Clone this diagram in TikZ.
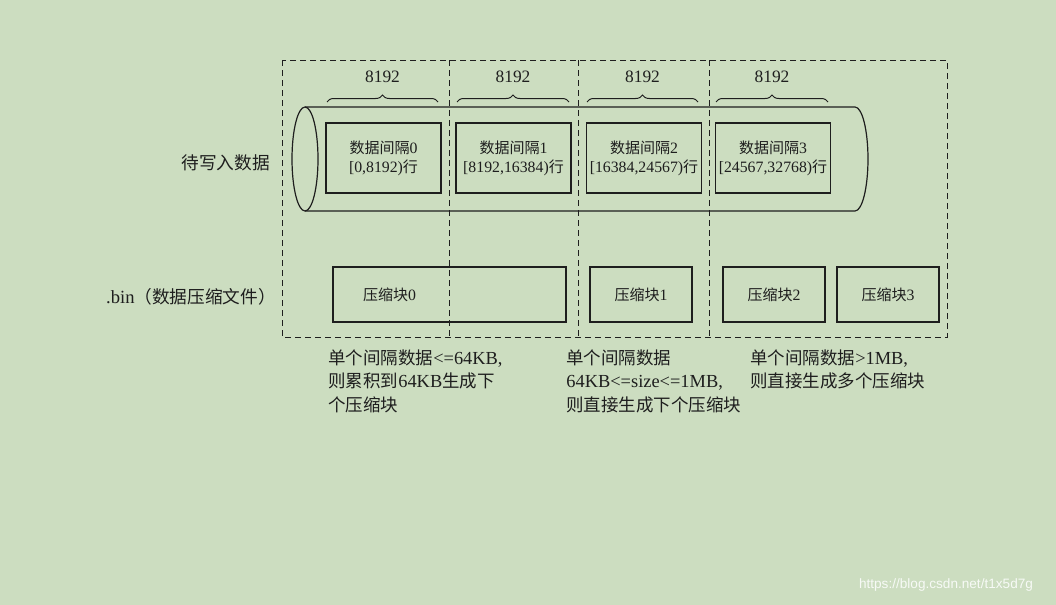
\documentclass[tikz,border=0pt]{standalone}
\usepackage{fontspec}
\setmainfont{Liberation Serif}
\newfontfamily\cjk[Scale=0.95]{Noto Sans CJK SC}
\newfontfamily\webfont{Liberation Sans}
\newcommand{\zh}[1]{{\cjk #1}}
\usepackage{tikz}
\usetikzlibrary{positioning, decorations.pathreplacing}
\definecolor{bggreen}{RGB}{204,221,192}
\definecolor{inkgray}{RGB}{30,30,30}

\begin{document}
\begin{tikzpicture}[
        x=0.5pt, y=-0.5pt,
        every node/.style={text=inkgray},
        databox/.style={rectangle, draw=inkgray, line width=0.6pt, minimum width=57.5pt, minimum height=35pt, inner xsep=0pt, align=center, font=\fontsize{7.9}{9.5}\selectfont},
        block/.style={rectangle, draw=inkgray, line width=0.6pt, minimum width=51pt, minimum height=27.5pt, font=\fontsize{7.9}{9.5}\selectfont},
        sep/.style={draw=inkgray, line width=0.5pt, dash pattern=on 3pt off 2pt},
        brace/.style={draw=inkgray, line width=0.5pt, decorate, decoration={brace, amplitude=3.5pt}},
        side/.style={anchor=east, font=\fontsize{9.3}{11}\selectfont},
        note/.style={anchor=north west, align=left, inner sep=0pt, font=\fontsize{9.2}{11.75}\selectfont}
    ]

    % background and frame
    \fill[bggreen] (0,0) rectangle (1056,605);
    \useasboundingbox (0,0) rectangle (1056,605);

    % cylinder
    \draw[draw=inkgray, line width=0.6pt] (305,159) ellipse [x radius=6.5pt, y radius=26pt];
    \draw[draw=inkgray, line width=0.6pt] (305,107) -- (855,107)
        arc [start angle=90, end angle=-90, x radius=6.5pt, y radius=26pt] -- (305,211);

    % data intervals
    \node (d0) [databox] at (383.5,158) {\zh{数据间隔}0\\{[}0,8192)\zh{行}};
    \node (d1) [databox] at (513.5,158) {\zh{数据间隔}1\\{[}8192,16384)\zh{行}};
    \node (d2) [databox] at (644,158) {\zh{数据间隔}2\\{[}16384,24567)\zh{行}};
    \node (d3) [databox] at (773,158) {\zh{数据间隔}3\\{[}24567,32768)\zh{行}};

    \foreach \i/\xa/\xb in {0/327/438, 1/457/569, 2/587/698, 3/716/828} {
        \draw[brace] (\xa,102) -- (\xb,102);
        \node (w\i) at ({(\xa+\xb)/2},77) [font=\fontsize{8.7}{10}\selectfont] {8192};
    }

    % compressed blocks
    \node (blk0) [block, minimum width=116.5pt, text width=86.5pt, inner xsep=15pt, align=left] at (449.5,294.5) {\zh{压缩块}0};
    \node (blk1) [block] at (641,294.5) {\zh{压缩块}1};
    \node (blk2) [block] at (774,294.5) {\zh{压缩块}2};
    \node (blk3) [block] at (888,294.5) {\zh{压缩块}3};

    \node (raw) [side] at (277,163) {\zh{待写入数据}};
    \node (bin) [side] at (283,297) {.bin\zh{（数据压缩文件）}};

    % dashed frame
    \draw[sep] (282,60) rectangle (947,337);
    \foreach \x in {449,578,709}
        \draw[sep] (\x,60) -- (\x,337);

    % notes
    \node (n0) [note] at (328,349) {\zh{单个间隔数据}<=64KB,\\\zh{则累积到}64KB\zh{生成下}\\\zh{个压缩块}};
    \node (n1) [note] at (566,349) {\zh{单个间隔数据}\\64KB<=size<=1MB,\\\zh{则直接生成下个压缩块}};
    \node (n2) [note] at (750,349) {\zh{单个间隔数据}>1MB,\\\zh{则直接生成多个压缩块}};

    \node (mark) at (946,585) [font=\webfont\fontsize{6.8}{8}\selectfont, text=white!85!bggreen] {https://blog.csdn.net/t1x5d7g};

\end{tikzpicture}
\end{document}
